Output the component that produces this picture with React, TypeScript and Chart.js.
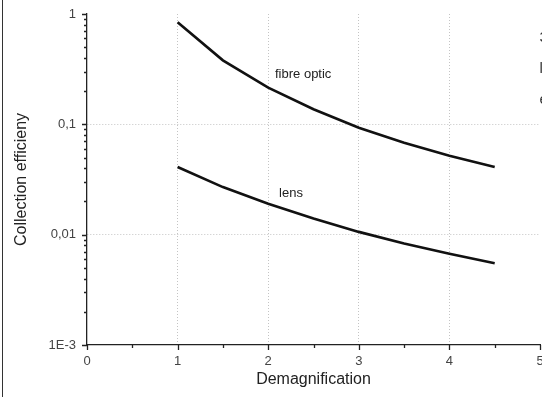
import React, { useEffect, useRef } from "react";
import { Chart, registerables } from "chart.js";

Chart.register(...registerables);

// ---- data ----
const demagnification = [1, 1.5, 2, 2.5, 3, 3.5, 4, 4.5];
const fibreOptic = [0.84, 0.38, 0.215, 0.137, 0.093, 0.068, 0.052, 0.041];
const lens = [0.041, 0.027, 0.0191, 0.014, 0.0106, 0.0083, 0.0067, 0.0055];

const xTickValues = [0, 1, 2, 3, 4, 5];
const xTickLabels = ["0", "1", "2", "3", "4", "5"];
const yTickValues = [0.001, 0.01, 0.1, 1];
const yTickLabels = ["1E-3", "0,01", "0,1", "1"];
const yMinorMultipliers = [2, 3, 4, 5, 6, 7, 8, 9];

const seriesLabels = ["fibre optic", "lens"];
const seriesLabelAnchors = [
  { x: 2.075, y: 0.283 },
  { x: 2.12, y: 0.0237 },
];
const edgeTexts = ["3", "l", "e"];

const FONT = "'Liberation Sans', Arial, sans-serif";

export default function App() {
  const canvasRef = useRef<HTMLCanvasElement | null>(null);

  useEffect(() => {
    document.body.style.margin = "0";
    const canvas = canvasRef.current;
    if (!canvas) return;

    const decorPlugin = {
      id: "decor",
      beforeDraw(chart: any) {
        const ctx = chart.ctx;
        ctx.save();
        ctx.fillStyle = "#ffffff";
        ctx.fillRect(0, 0, chart.width, chart.height);
        // left frame line
        ctx.strokeStyle = "#333";
        ctx.lineWidth = 1;
        ctx.beginPath();
        ctx.moveTo(2.5, 0);
        ctx.lineTo(2.5, chart.height);
        ctx.stroke();
        ctx.restore();
      },
      afterDraw(chart: any) {
        const ctx = chart.ctx;
        const xs = chart.scales.x;
        const ys = chart.scales.y;
        const area = chart.chartArea;
        ctx.save();
        ctx.strokeStyle = "#222";
        ctx.lineWidth = 1.3;
        // x ticks
        ctx.beginPath();
        for (let i = 0; i < xTickValues.length; i++) {
          const px = Math.round(xs.getPixelForValue(xTickValues[i])) + 0.5;
          ctx.moveTo(px, area.bottom);
          ctx.lineTo(px, area.bottom + 5);
          if (i < xTickValues.length - 1) {
            const mid = (xTickValues[i] + xTickValues[i + 1]) / 2;
            const pm = Math.round(xs.getPixelForValue(mid)) + 0.5;
            ctx.moveTo(pm, area.bottom);
            ctx.lineTo(pm, area.bottom + 3);
          }
        }
        // y ticks
        for (let i = 0; i < yTickValues.length; i++) {
          const py = Math.round(ys.getPixelForValue(yTickValues[i])) + 0.5;
          ctx.moveTo(area.left, py);
          ctx.lineTo(area.left - 5, py);
          if (i < yTickValues.length - 1) {
            for (const m of yMinorMultipliers) {
              const pm = Math.round(ys.getPixelForValue(yTickValues[i] * m)) + 0.5;
              ctx.moveTo(area.left, pm);
              ctx.lineTo(area.left - 3, pm);
            }
          }
        }
        ctx.stroke();

        // series labels
        ctx.fillStyle = "#222";
        ctx.font = `13px ${FONT}`;
        ctx.textAlign = "left";
        ctx.textBaseline = "middle";
        seriesLabels.forEach((t, i) => {
          const a = seriesLabelAnchors[i];
          ctx.fillText(t, xs.getPixelForValue(a.x), ys.getPixelForValue(a.y));
        });

        // cut-off text at the right edge
        ctx.font = `15px ${FONT}`;
        ctx.fillStyle = "#333";
        const edgeY = [38, 69, 100];
        edgeTexts.forEach((t, i) => ctx.fillText(t, 539.5, edgeY[i]));
        ctx.restore();
      },
    };

    const gridColor = (ctx: any) => {
      const v = ctx.tick ? ctx.tick.value : null;
      if (ctx.scale.axis === "x") {
        return v > 0 && v < 5 ? "#c4c4c4" : "rgba(0,0,0,0)";
      }
      return v > 0.001 && v < 1 ? "#c4c4c4" : "rgba(0,0,0,0)";
    };

    const chart = new Chart(canvas, {
      type: "line",
      data: {
        datasets: [
          {
            label: seriesLabels[0],
            data: demagnification.map((x, i) => ({ x, y: fibreOptic[i] })),
            borderColor: "#111",
            borderWidth: 2.6,
            pointRadius: 0,
            tension: 0,
            fill: false,
          },
          {
            label: seriesLabels[1],
            data: demagnification.map((x, i) => ({ x, y: lens[i] })),
            borderColor: "#111",
            borderWidth: 2.6,
            pointRadius: 0,
            tension: 0,
            fill: false,
          },
        ],
      },
      options: {
        responsive: false,
        animation: false,
        layout: { padding: { top: 14, right: 2, bottom: 0, left: 0 } },
        plugins: {
          legend: { display: false },
          tooltip: { enabled: false },
        },
        scales: {
          x: {
            type: "linear",
            min: 0,
            max: 5,
            afterBuildTicks: (scale: any) => {
              scale.ticks = xTickValues.map((v) => ({ value: v }));
            },
            afterFit: (scale: any) => {
              scale.height = 52;
              scale.paddingLeft = 0;
              scale.paddingRight = 0;
            },
            ticks: {
              autoSkip: false,
              maxRotation: 0,
              padding: 9,
              color: "#444",
              font: { family: FONT, size: 13 },
              callback: (v: any) => {
                const i = xTickValues.indexOf(Number(v));
                return i >= 0 ? xTickLabels[i] : "";
              },
            },
            grid: {
              drawTicks: false,
              color: gridColor,
              lineWidth: 1,
            },
            border: { display: true, color: "#222", width: 1.3, dash: [1, 2] },
            title: {
              display: true,
              text: "Demagnification",
              color: "#222",
              font: { family: FONT, size: 16 },
              padding: { top: 0, bottom: 8 },
            },
          },
          y: {
            type: "logarithmic",
            min: 0.001,
            max: 1,
            afterBuildTicks: (scale: any) => {
              scale.ticks = yTickValues.map((v) => ({ value: v }));
            },
            afterFit: (scale: any) => {
              scale.width = 87;
              scale.paddingTop = 0;
              scale.paddingBottom = 0;
            },
            ticks: {
              autoSkip: false,
              padding: 11,
              color: "#444",
              font: { family: FONT, size: 13 },
              callback: (v: any) => {
                const n = Number(v);
                const i = yTickValues.findIndex((t) => Math.abs(t - n) / t < 1e-6);
                return i >= 0 ? yTickLabels[i] : "";
              },
            },
            grid: {
              drawTicks: false,
              color: gridColor,
              lineWidth: 1,
            },
            border: { display: true, color: "#222", width: 1.3, dash: [1, 2] },
            title: {
              display: true,
              text: "Collection efficieny",
              color: "#222",
              font: { family: FONT, size: 16 },
              padding: { top: 12, bottom: 0 },
            },
          },
        },
      } as any,
      plugins: [decorPlugin],
    });

    return () => chart.destroy();
  }, []);

  return (
    <div style={{ width: 542, height: 397 }}>
      <canvas ref={canvasRef} width={542} height={397} />
    </div>
  );
}
